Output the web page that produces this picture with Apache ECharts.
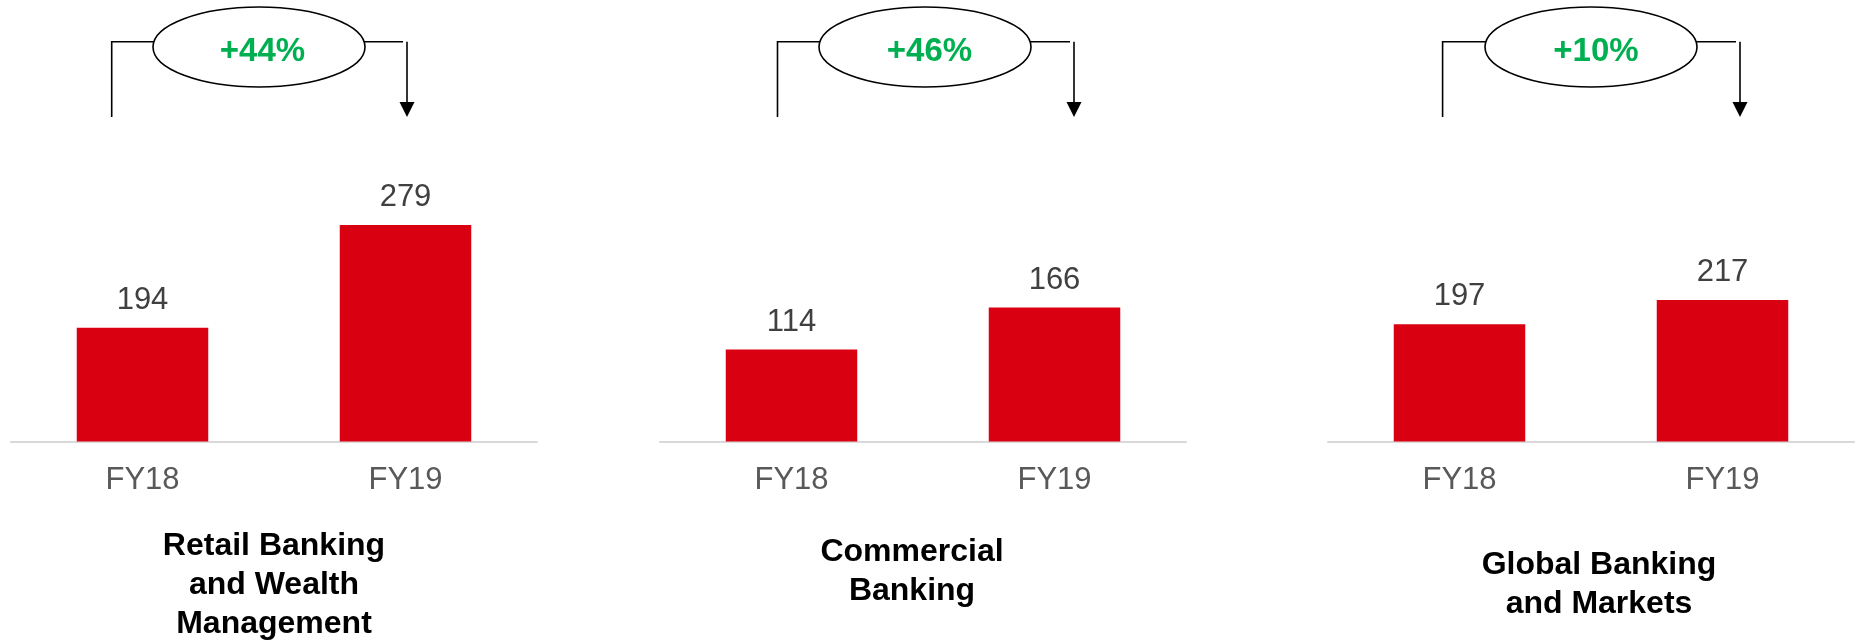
<!DOCTYPE html>
<html>
<head>
<meta charset="utf-8">
<script src="https://cdn.jsdelivr.net/npm/echarts@6/dist/echarts.min.js"></script>
<style>
html,body{margin:0;padding:0;background:#fff;}
#chart{width:1857px;height:640px;}
</style>
</head>
<body>
<div id="chart"></div>
<script>
// ---- data ----
const categories = ['FY18', 'FY19'];
const retailValues = [194, 279];
const commercialValues = [114, 166];
const globalValues = [197, 217];
const segmentTitles = ['Retail Banking\nand Wealth\nManagement', 'Commercial\nBanking', 'Global Banking\nand Markets'];
const growthLabels = ['+44%', '+46%', '+10%'];

const seriesValues = [retailValues, commercialValues, globalValues];
const FONT = '"Liberation Sans", Arial, sans-serif';
const RED = '#d90012';

// layout per panel
const panels = [
  { left: 11,   yMin: 100, bL: 111.7,  cx: 259,  R: 407,  tx: 262.5, titleX: 274,  titleY: 585.5 },
  { left: 660,  yMin: 0,   bL: 777.5,  cx: 925,  R: 1074, tx: 929.5, titleX: 912,  titleY: 572 },
  { left: 1328, yMin: 100, bL: 1442.6, cx: 1591, R: 1740, tx: 1596,  titleX: 1599, titleY: 584.5 }
];
const GRID_W = 526, GRID_TOP = 199.5, GRID_H = 242;

const grids = [], xAxes = [], yAxes = [], series = [], graphics = [];
panels.forEach((p, i) => {
  grids.push({ left: p.left, top: GRID_TOP, width: GRID_W, height: GRID_H, containLabel: false });
  xAxes.push({
    type: 'category', gridIndex: i, data: categories,
    axisLine: { show: true, lineStyle: { color: '#d9d9d9', width: 2 } },
    axisTick: { show: false },
    axisLabel: { color: '#595959', fontSize: 31, fontFamily: FONT, margin: 23 }
  });
  yAxes.push({
    type: 'value', gridIndex: i, min: p.yMin, max: 300,
    show: false, splitLine: { show: false }
  });
  series.push({
    type: 'bar', xAxisIndex: i, yAxisIndex: i, data: seriesValues[i],
    barWidth: '50%', itemStyle: { color: RED },
    label: { show: true, position: 'top', distance: 12, color: '#404040', fontSize: 31, fontFamily: FONT },
    silent: true
  });

  const yH = 41.7, yBot = 117, rx = 106, ry = 40, cy = 47;
  const lineStyle = { stroke: '#000', lineWidth: 1.6, fill: null };
  graphics.push({ type: 'polyline', shape: { points: [[p.bL, yBot], [p.bL, yH], [p.cx - rx + 1, yH]] }, style: lineStyle });
  graphics.push({ type: 'polyline', shape: { points: [[p.cx + rx - 1, yH], [p.R - 4, yH]] }, style: lineStyle });
  graphics.push({ type: 'line', shape: { x1: p.R, y1: yH, x2: p.R, y2: 104 }, style: { stroke: '#000', lineWidth: 1.6 } });
  graphics.push({ type: 'polygon', shape: { points: [[p.R - 7.5, 102], [p.R + 7.5, 102], [p.R, 117]] }, style: { fill: '#000' } });
  graphics.push({ type: 'ellipse', shape: { cx: p.cx, cy: cy, rx: rx, ry: ry }, style: { fill: '#fff', stroke: '#000', lineWidth: 1.6 } });
  graphics.push({ type: 'text', x: p.tx, y: 52, style: { text: growthLabels[i], fill: '#00b050', fontSize: 33, fontWeight: 'bold', fontFamily: FONT, align: 'center', verticalAlign: 'middle' } });
  graphics.push({ type: 'text', x: p.titleX, y: p.titleY, style: { text: segmentTitles[i], fill: '#000', fontSize: 32, fontWeight: 'bold', fontFamily: FONT, align: 'center', verticalAlign: 'middle', lineHeight: 39 } });
});

const chart = echarts.init(document.getElementById('chart'), null, { renderer: 'canvas' });
chart.setOption({
  animation: false,
  backgroundColor: '#fff',
  grid: grids, xAxis: xAxes, yAxis: yAxes, series: series,
  graphic: graphics
});
</script>
</body>
</html>
